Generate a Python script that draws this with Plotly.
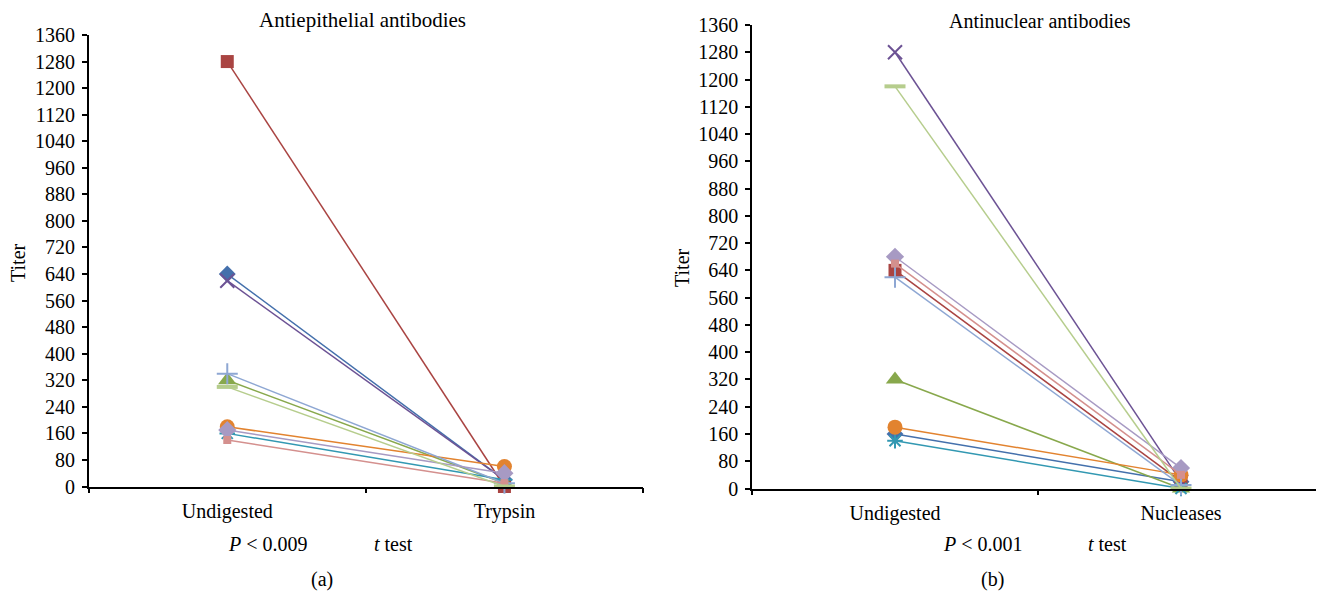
import plotly.graph_objects as go

# The page places the plot 8px in from the top-left corner, so the figure is
# 8px smaller and all pixel positions below are given in screen coordinates.
OFF = 8
W, H = 1324 - OFF, 596 - OFF

# Panel (a): Antiepithelial antibodies
cats_a = ["Undigested", "Trypsin"]
# Panel (b): Antinuclear antibodies
cats_b = ["Undigested", "Nucleases"]

series_names = ["S1", "S2", "S3", "S4", "S5", "S6", "S7", "S8", "S9", "S10"]
colors = ["#4470AC", "#A94442", "#88A84C", "#6C5294", "#3298B2",
          "#E2832F", "#8EA7D3", "#A79AC3", "#D4908E", "#B6CD8D"]
symbols = ["diamond", "square", "triangle-up", "x-thin", "asterisk",
           "circle", "cross-thin", "diamond", "square", "line-ew"]
sizes = [13, 13, 16, 14, 13, 15, 15, 14, 8, 15]

undig_a = [640, 1280, 320, 620, 160, 180, 340, 170, 140, 300]
tryp_a = [20, 0, 10, 20, 20, 60, 10, 40, 10, 0]

undig_b = [160, 640, 320, 1280, 140, 180, 620, 680, 660, 1180]
nucl_b = [20, 20, 0, 20, 0, 40, 10, 60, 40, 0]

yticks = list(range(0, 1361, 80))

FONT = "Liberation Serif"
FS = 20


def px(xs):
    return (xs - OFF) / W


def py(ys):
    return 1 - (ys - OFF) / H


fig = go.Figure()


def add_series(xa, ya, cats, v0, v1):
    for i in range(len(series_names)):
        sym = symbols[i]
        open_sym = sym in ("x-thin", "asterisk", "cross-thin", "line-ew")
        marker = dict(symbol=sym, size=sizes[i], color=colors[i],
                      line=dict(color=colors[i], width=(4 if sym == "line-ew" else 2) if open_sym else 0))
        fig.add_trace(go.Scatter(
            x=cats, y=[v0[i], v1[i]], mode="lines+markers",
            name=series_names[i], xaxis=xa, yaxis=ya,
            line=dict(color=colors[i], width=1.5),
            marker=marker, showlegend=False, cliponaxis=False))


add_series("x", "y", cats_a, undig_a, tryp_a)
add_series("x2", "y2", cats_b, undig_b, nucl_b)

axis_common = dict(showline=True, linecolor="#000", linewidth=1.5,
                   ticks="outside", tickcolor="#000", ticklen=5, tickwidth=1.5,
                   showgrid=False, zeroline=False, automargin=False,
                   tickfont=dict(family=FONT, size=FS, color="#000"))

fig.update_layout(
    width=W, height=H, margin=dict(l=0, r=0, t=0, b=0),
    paper_bgcolor="white", plot_bgcolor="white",
    font=dict(family=FONT, size=FS, color="#000"),
    xaxis=dict(domain=[px(88.7), px(643)], anchor="y", type="category",
               tickson="boundaries", range=[-0.5, 1.5], ticklabelstandoff=6,
               **axis_common),
    yaxis=dict(domain=[py(486.5), py(35)], anchor="x", range=[0, 1360],
               tickvals=yticks, ticklabelstandoff=3, **axis_common),
    xaxis2=dict(domain=[px(752), 1.0], anchor="y2", type="category",
                tickson="boundaries", range=[-0.5, 1.5], ticklabelstandoff=6,
                **axis_common),
    yaxis2=dict(domain=[py(488.5), py(25)], anchor="x2", range=[0, 1360],
                tickvals=yticks, ticklabelstandoff=3, **axis_common),
)


def ann(text, xs, ys, size=FS, angle=0, yanchor="middle"):
    fig.add_annotation(text=text, x=px(xs), y=py(ys), xref="paper", yref="paper",
                       showarrow=False, xanchor="center", yanchor=yanchor,
                       textangle=angle,
                       font=dict(family=FONT, size=size, color="#000"))


ann("Antiepithelial antibodies", 362, 20, size=21)
ann("Antinuclear antibodies", 1040, OFF, size=20, yanchor="top")
ann("Titer", 18, 263, angle=-90)
ann("Titer", 682, 268, angle=-90)
ann("<i>P</i> &lt; 0.009", 268, 544)
ann("<i>t</i> test", 393, 544)
ann("(a)", 322, 579)
ann("<i>P</i> &lt; 0.001", 983, 544)
ann("<i>t</i> test", 1107, 544)
ann("(b)", 992, 579)

fig.write_html("out.html")
